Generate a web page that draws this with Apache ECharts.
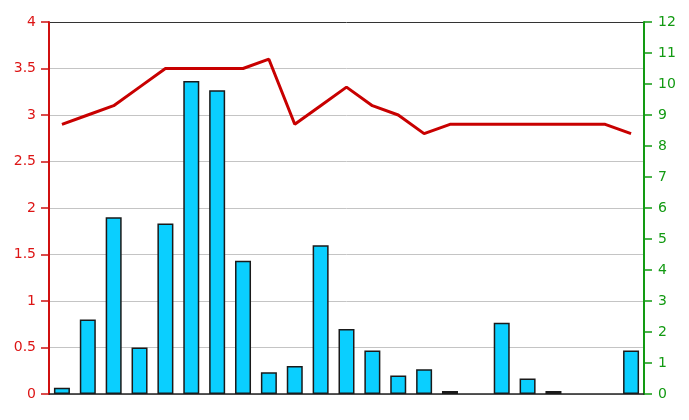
<!DOCTYPE html>
<html>
<head>
<meta charset="utf-8">
<script src="https://cdn.jsdelivr.net/npm/echarts@6/dist/echarts.min.js"></script>
<style>html,body{margin:0;padding:0;background:#fff;}#c{width:689px;height:420px;}</style>
</head>
<body>
<div id="c"></div>
<script>
var categories = ['1','2','3','4','5','6','7','8','9','10','11','12','13','14','15','16','17','18','19','20','21','22','23'];
var barValues = [0.2, 2.4, 5.7, 1.5, 5.5, 10.1, 9.8, 4.3, 0.7, 0.9, 4.8, 2.1, 1.4, 0.6, 0.8, 0.1, 0, 2.3, 0.5, 0.1, 0, 0, 1.4];
var lineValues = [2.9, 3.0, 3.1, 3.3, 3.5, 3.5, 3.5, 3.5, 3.6, 2.9, 3.1, 3.3, 3.1, 3.0, 2.8, 2.9, 2.9, 2.9, 2.9, 2.9, 2.9, 2.9, 2.8];
var leftTicks = {min: 0, max: 4, interval: 0.5};
var rightTicks = {min: 0, max: 12, interval: 1};

var gridColors = [];
for (var i = 0; i < 8; i++) gridColors.push('#c4c4c4');
gridColors.push('#333333');

var barData = barValues.map(function (v) {
  return v === 0 ? {value: v, itemStyle: {borderWidth: 0}} : v;
});

var chart = echarts.init(document.getElementById('c'), null, {renderer: 'canvas'});
chart.setOption({
  animation: false,
  backgroundColor: '#ffffff',
  grid: {left: 49, right: 45, top: 22, bottom: 26},
  xAxis: {
    type: 'category',
    data: categories,
    boundaryGap: true,
    axisLine: {show: true, lineStyle: {color: '#222222', width: 1.5}},
    axisTick: {show: false},
    axisLabel: {show: false},
    splitLine: {show: false}
  },
  yAxis: [{
    type: 'value',
    position: 'left',
    min: leftTicks.min, max: leftTicks.max, interval: leftTicks.interval,
    axisLine: {show: true, lineStyle: {color: '#d01010', width: 2}},
    axisTick: {show: true, length: 8, lineStyle: {color: '#d01010', width: 1.5}},
    axisLabel: {color: '#dd1515', fontFamily: 'DejaVu Sans', fontSize: 14, margin: 13},
    splitLine: {show: true, lineStyle: {color: gridColors, width: 1}}
  }, {
    type: 'value',
    position: 'right',
    min: rightTicks.min, max: rightTicks.max, interval: rightTicks.interval,
    axisLine: {show: true, lineStyle: {color: '#129a12', width: 2}},
    axisTick: {show: true, length: 8, lineStyle: {color: '#129a12', width: 1.5}},
    axisLabel: {color: '#129a12', fontFamily: 'DejaVu Sans', fontSize: 14, margin: 14},
    splitLine: {show: false}
  }],
  series: [{
    type: 'bar',
    yAxisIndex: 1,
    data: barData,
    barWidth: 16,
    itemStyle: {color: '#0acfff', borderColor: '#1a1a1a', borderWidth: 1.5},
    z: 2
  }, {
    type: 'line',
    yAxisIndex: 0,
    data: lineValues,
    showSymbol: false,
    symbol: 'none',
    lineStyle: {color: '#c80000', width: 3},
    z: 3
  }]
});
</script>
</body>
</html>
